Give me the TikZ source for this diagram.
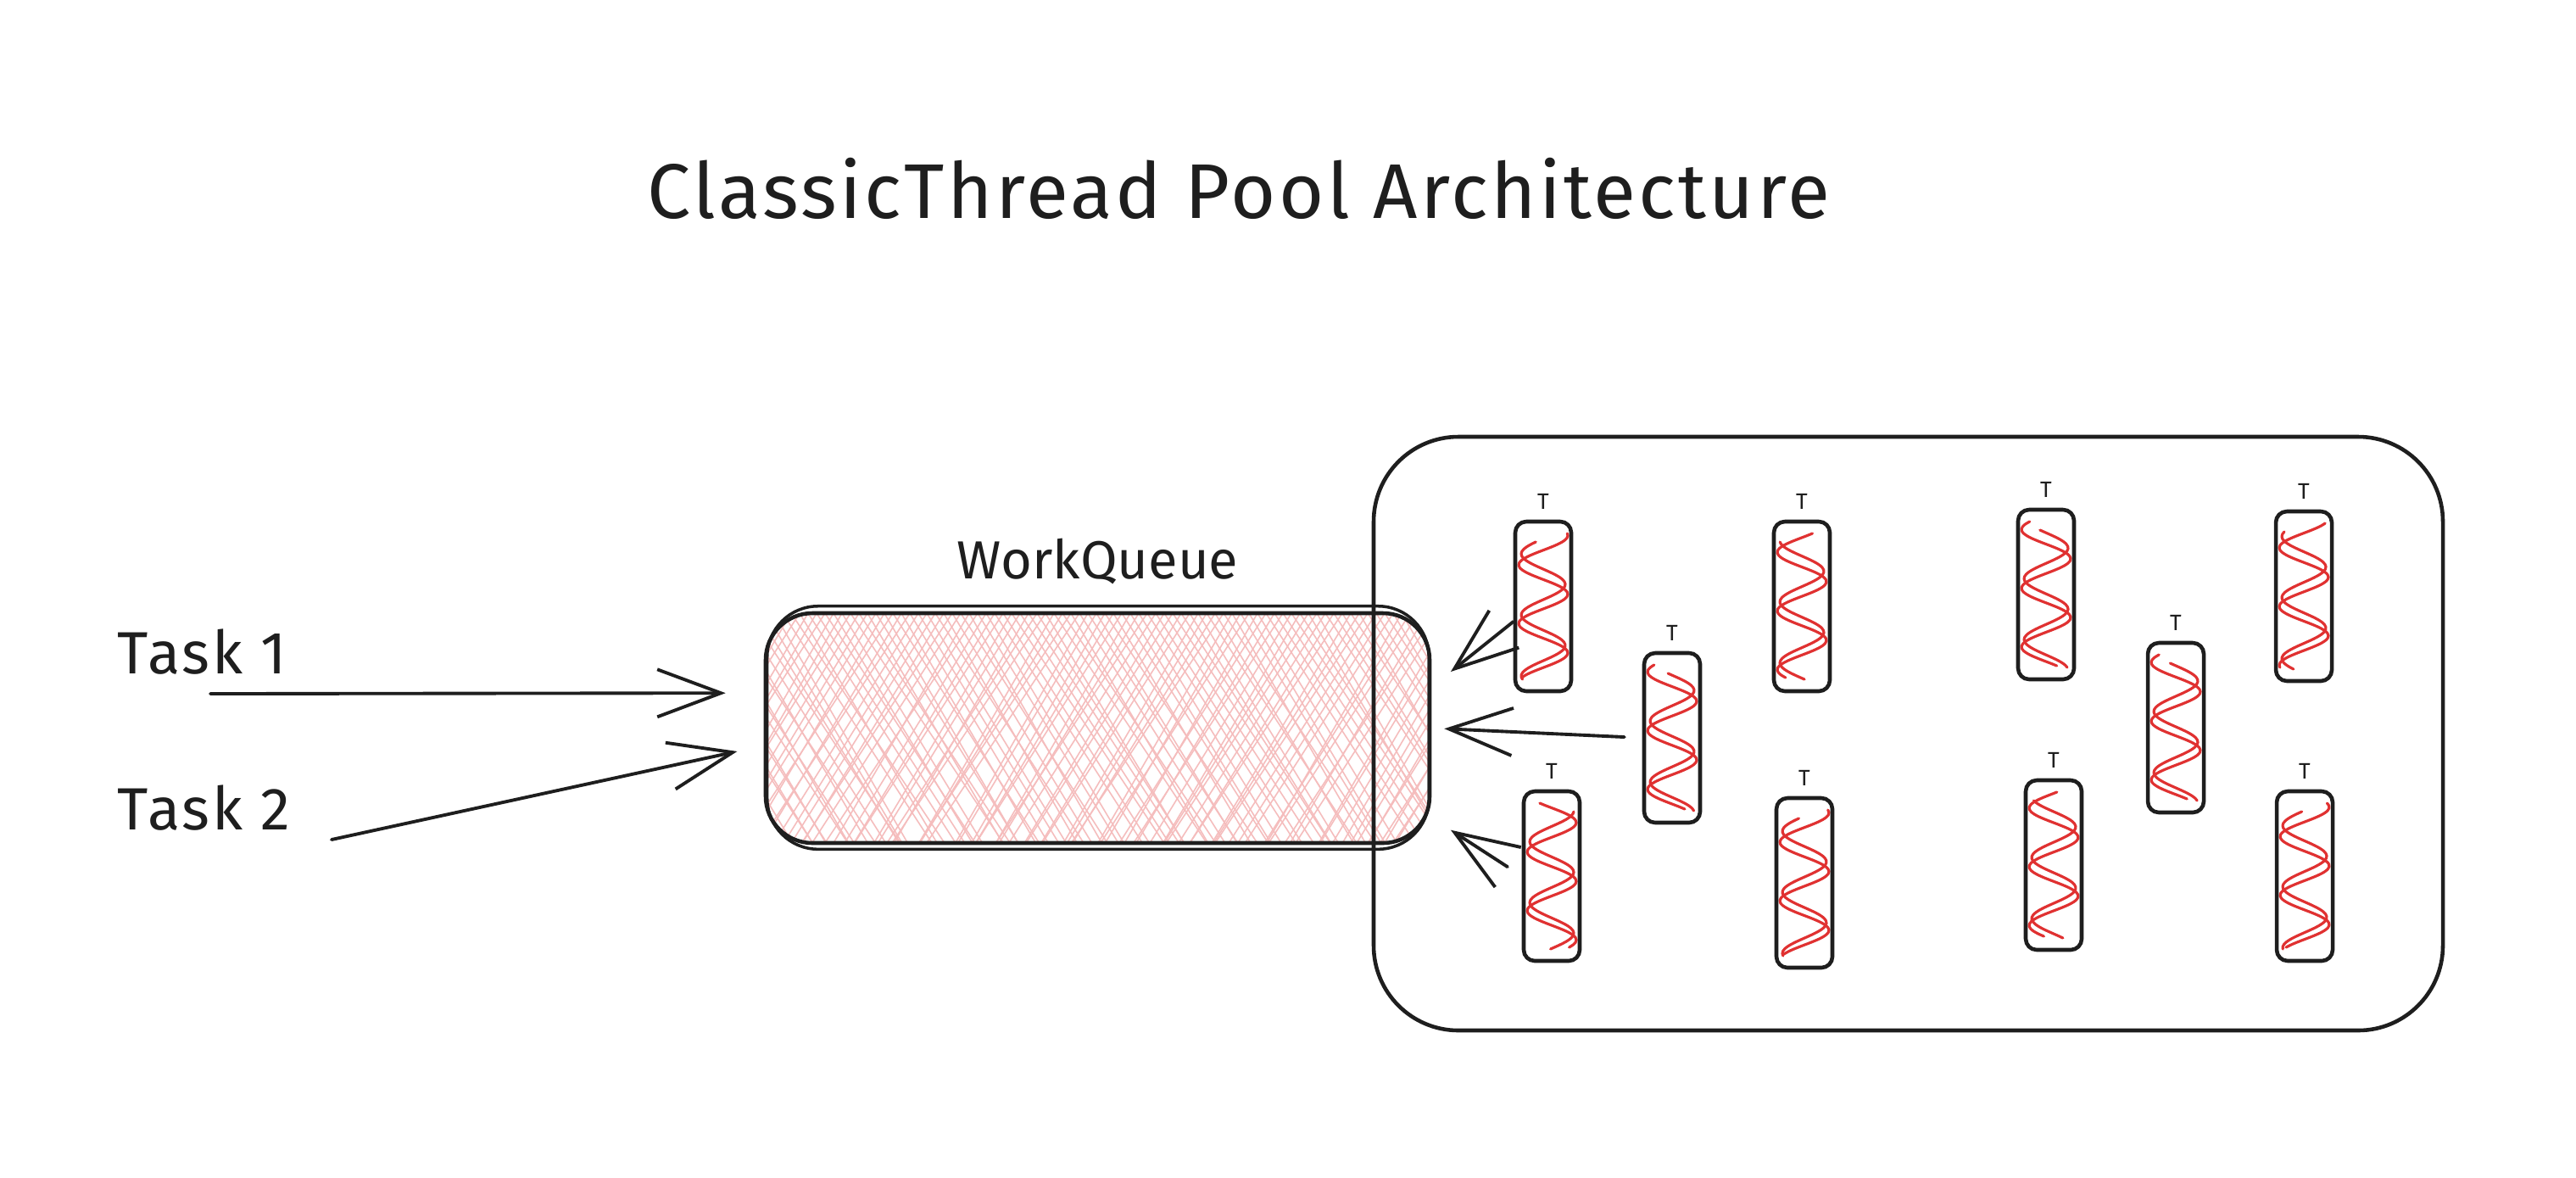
\documentclass[tikz,border=0pt]{standalone}
\usepackage{fontspec}
\setmainfont{Fira Sans}
\usepackage{xcolor}
\usetikzlibrary{positioning}
\usetikzlibrary{arrows.meta}

\definecolor{ink}{HTML}{1E1E1E}
\definecolor{wavered}{HTML}{E03131}
\definecolor{hatchpink}{HTML}{F5BDBD}

\begin{document}
\pgfmathsetseed{7}
\begin{tikzpicture}[x=1mm, y=-1mm, line cap=round, line join=round,
    >={Straight Barb[length=7.5mm,width=5.6mm]},
    arr/.style={->, draw=ink, line width=1.1pt},
    wave/.style={draw=wavered, line width=0.9pt, sharp corners},
    hatch/.style={draw=hatchpink, line width=0.45pt, sharp corners},
    title/.style={font=\fontsize{26}{31}\selectfont\addfontfeature{LetterSpace=3.7}, text=ink, inner sep=0pt},
    task/.style={font=\fontsize{20}{24}\selectfont\addfontfeature{LetterSpace=4}, text=ink, inner sep=0pt},
    wq/.style={font=\fontsize{18}{22}\selectfont, text=ink, inner sep=0pt},
    thread/.style={draw=ink, line width=1.3pt, rounded corners=1.3mm,
      minimum width=6.6mm, minimum height=20mm, inner sep=0pt,
      label distance=0.4mm, label={[t label]above:T},
      path picture={
        \pgfmathsetmacro\ph{rnd*360}
        \draw[wave, shift={(path picture bounding box.center)}]
          plot[smooth, samples=60, domain=-8.6:8.4, variable=\yy] ({2.9*sin(52*\yy+\ph)}, \yy);
        \draw[wave, shift={(path picture bounding box.center)}]
          plot[smooth, samples=60, domain=-7.6:8.6, variable=\yy] ({2.6*sin(50*\yy+\ph+55)}, \yy);
      }},
    t label/.style={font=\fontsize{7.5}{9}\selectfont, text=ink},
    queue/.style={draw=ink, line width=1.3pt, rounded corners=5.5mm,
      minimum width=78.3mm, minimum height=27.1mm, inner sep=0pt,
      path picture={
        \foreach \i in {-18,-17,...,96} {
          \draw[hatch] ([xshift=\i mm]path picture bounding box.north west) -- ++({15.6+rnd*2.5},27.1);
          \draw[hatch] ([xshift=\i mm]path picture bounding box.north west) -- ++({-15.6-rnd*2.5},27.1);
        }
      }},
    pool/.style={draw=ink, line width=1.3pt, rounded corners=10mm,
      minimum width=126.1mm, minimum height=70mm, inner sep=0pt}]

  \useasboundingbox[fill=white] (0,0) rectangle (303.8,138.8);

  \node[title, anchor=base] (title) at (146.1,25.7) {ClassicThread Pool Architecture};

  % work queue
  \node[queue] (q) at (129.45,85.85) {};
  \draw[draw=ink, line width=1pt, rounded corners=6mm]
    ([xshift=0.4mm, yshift=0.6mm]q.north west) rectangle ([xshift=-0.3mm, yshift=-0.5mm]q.south east);
  \node[wq, above=3.8mm of q, anchor=base] (wqlabel) {WorkQueue};

  % tasks
  \node[task, anchor=base west] (task1) at (13.8,79.4) {Task 1};
  \node[task, anchor=base west] (task2) at (13.8,97.8) {Task 2};
  \coordinate (c1) at (24.8,81.8);
  \coordinate (c2) at (39.1,99.0);

  % thread pool
  \node[pool] (pool) at (225.05,86.5) {};

  \node[thread] (t1) at (182.0,71.5) {};
  \node[thread] (t2) at (197.2,87.0) {};
  \node[thread] (t3) at (183.0,103.3) {};
  \node[thread] (t4) at (212.5,71.5) {};
  \node[thread] (t5) at (212.8,104.1) {};
  \node[thread] (t6) at (241.3,70.1) {};
  \node[thread] (t7) at (242.2,102.0) {};
  \node[thread] (t8) at (256.6,85.8) {};
  \node[thread] (t9) at (271.7,70.3) {};
  \node[thread] (t10) at (271.8,103.3) {};

  \draw[arr, shorten >=4.5mm] (c1) -- (q.174);
  \draw[arr, shorten >=3.2mm] (c2) -- (q.183);
  \draw[arr, shorten >=2.9mm] (t1.207) -- (q.7);
  \draw[arr, shorten <=2.1mm, shorten >=1.5mm] (t2.west) -- (q.east);
  \draw[arr, shorten <=2mm, shorten >=2.7mm] (t3.west) -- (q.-15);
\end{tikzpicture}
\end{document}
